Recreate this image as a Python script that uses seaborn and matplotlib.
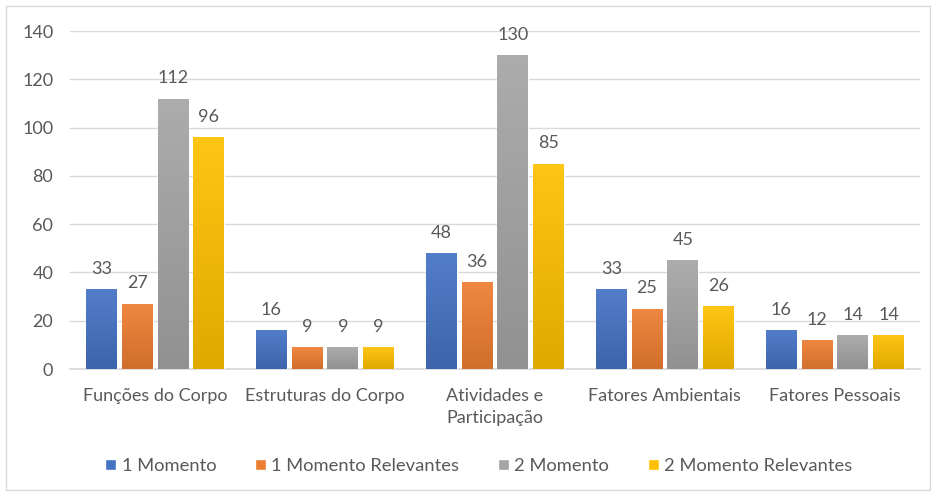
import numpy as np
import pandas as pd
import matplotlib
matplotlib.use("Agg")
import matplotlib.pyplot as plt
import matplotlib.colors as mcolors
from matplotlib.patches import Rectangle
import seaborn as sns

categories = ["Funções do Corpo", "Estruturas do Corpo", "Atividades e\nParticipação",
              "Fatores Ambientais", "Fatores Pessoais"]
series = ["1 Momento", "1 Momento Relevantes", "2 Momento", "2 Momento Relevantes"]
momento1 = [33, 16, 48, 33, 16]
momento1_relevantes = [27, 9, 36, 25, 12]
momento2 = [112, 9, 130, 45, 14]
momento2_relevantes = [96, 9, 85, 26, 14]
yticks = [0, 20, 40, 60, 80, 100, 120, 140]

colors = ["#4472C4", "#ED7D31", "#A5A5A5", "#FFC000"]
values = [momento1, momento1_relevantes, momento2, momento2_relevantes]

df = pd.DataFrame({
    "categoria": categories * 4,
    "serie": sum([[s] * len(categories) for s in series], []),
    "valor": sum(values, []),
})

sns.set_theme(style="white")
plt.rcParams["font.family"] = ["Lato", "DejaVu Sans"]
text_color = "#595959"
fs = 13

fig = plt.figure(figsize=(9.36, 4.96), dpi=100)
ax = fig.add_axes([0.0748, 0.256, 0.908, 0.6815])

sns.barplot(data=df, x="categoria", y="valor", hue="serie", order=categories,
            hue_order=series, palette=colors, width=0.84, gap=0.14,
            saturation=1, legend=True, ax=ax, zorder=3)

# vertical gradient fill on every bar, lighter at the top
def shade(c, f):
    r, g, b = mcolors.to_rgb(c)
    if f >= 0:
        return (r + (1 - r) * f, g + (1 - g) * f, b + (1 - b) * f)
    return (r * (1 + f), g * (1 + f), b * (1 + f))

for i, s in enumerate(series):
    cont = ax.containers[i]
    cmap = mcolors.LinearSegmentedColormap.from_list(
        "g", [shade(colors[i], -0.12), shade(colors[i], 0.08)])
    for bar, val in zip(cont, values[i]):
        x0 = bar.get_x()
        w = bar.get_width()
        h = bar.get_height()
        grad = np.linspace(0, 1, 256).reshape(-1, 1)
        im = ax.imshow(grad, extent=(x0, x0 + w, 0, h), origin="lower",
                       cmap=cmap, aspect="auto", zorder=3.5)
        im.set_clip_path(bar)
        ax.annotate(f"{val}", (x0 + w / 2, h), xytext=(0, 9),
                    textcoords="offset points", ha="center", va="bottom",
                    fontsize=fs, color=text_color)

ax.set_xlim(-0.5, len(categories) - 0.5)
ax.set_ylim(0, 140)
ax.set_yticks(yticks)
ax.yaxis.grid(True, color="#d9d9d9", linewidth=1)
ax.set_axisbelow(True)
for side in ["left", "right", "top"]:
    ax.spines[side].set_visible(False)
ax.spines["bottom"].set_color("#d9d9d9")
ax.tick_params(axis="both", length=0, labelsize=fs, labelcolor=text_color)
ax.tick_params(axis="y", pad=12)
ax.tick_params(axis="x", pad=14)
for t in ax.get_xticklabels():
    t.set_linespacing(1.45)
ax.set_xlabel("")
ax.set_ylabel("")

leg = ax.legend(loc="center", bbox_to_anchor=(0.481, -0.287), ncol=4, frameon=False,
                fontsize=13.2, handlelength=0.6, handleheight=0.6, handletextpad=0.3,
                columnspacing=2.1)
for t in leg.get_texts():
    t.set_color(text_color)

fig.patches.append(Rectangle((6 / 936, 6 / 496), 924 / 936, 484 / 496,
                             transform=fig.transFigure, fill=False,
                             edgecolor="#d9d9d9", linewidth=1))

fig.savefig("out.png", dpi=100)
